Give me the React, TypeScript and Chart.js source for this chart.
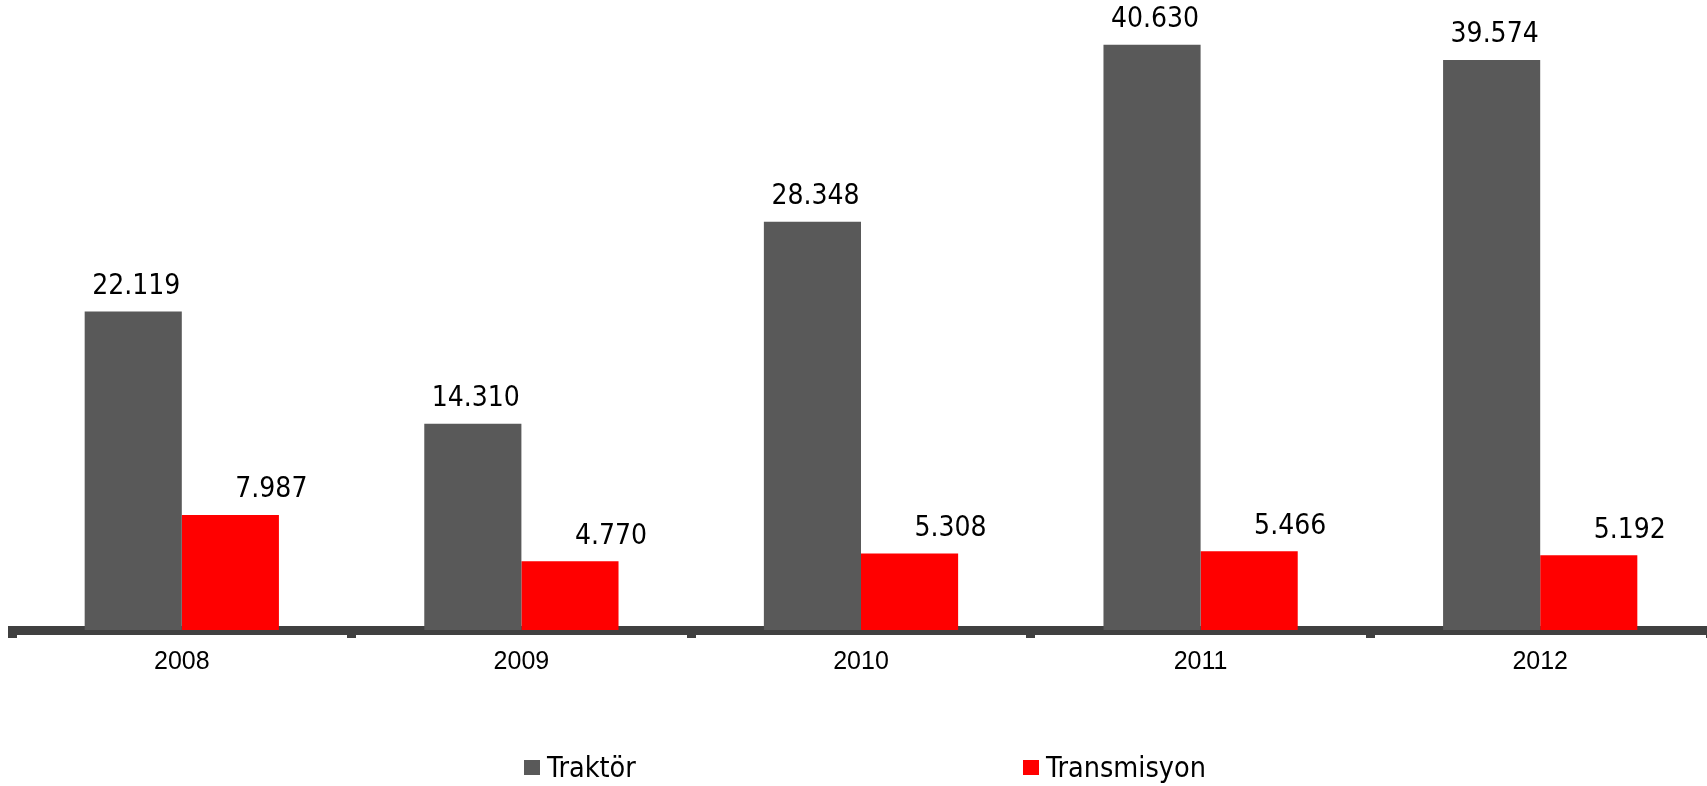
import { useEffect, useRef } from "react";
import { Chart, registerables } from "chart.js";

Chart.register(...registerables);

const years = ["2008", "2009", "2010", "2011", "2012"];
const traktor = [22119, 14310, 28348, 40630, 39574];
const transmisyon = [7987, 4770, 5308, 5466, 5192];
const seriesNames = ["Traktör", "Transmisyon"];
const seriesColors = ["#595959", "#FF0000"];
const yMax = 42000;

const W = 1710;
const H = 786;
const LABEL_FONT = '28px "DejaVu Sans Condensed", "DejaVu Sans", sans-serif';
const LEGEND_FONT = '28.5px "DejaVu Sans Condensed", "DejaVu Sans", sans-serif';

function fmt(v: number): string {
  const th = Math.floor(v / 1000);
  const rest = v % 1000;
  return th > 0 ? `${th}.${String(rest).padStart(3, "0")}` : String(rest);
}

const labelOffsetX = [3, 41];

const dataLabelPlugin = {
  id: "dataLabels",
  afterDatasetsDraw(chart: any) {
    const ctx = chart.ctx;
    ctx.save();
    ctx.font = LABEL_FONT;
    ctx.fillStyle = "#000000";
    ctx.textAlign = "center";
    ctx.textBaseline = "alphabetic";
    chart.data.datasets.forEach((ds: any, di: number) => {
      const meta = chart.getDatasetMeta(di);
      meta.data.forEach((bar: any, i: number) => {
        const v = ds.data[i] as number;
        ctx.fillText(fmt(v), bar.x + labelOffsetX[di], bar.y - 17.5);
      });
    });
    ctx.restore();
  },
};

const legendItemX = [524, 1023];
const legendBoxTop = 760;
const legendBaseline = 776.7;

const legendPlugin = {
  id: "customLegend",
  afterDraw(chart: any) {
    const ctx = chart.ctx;
    ctx.save();
    ctx.font = LEGEND_FONT;
    ctx.textAlign = "left";
    ctx.textBaseline = "alphabetic";
    chart.data.datasets.forEach((ds: any, di: number) => {
      const x = legendItemX[di];
      ctx.fillStyle = ds.backgroundColor;
      ctx.fillRect(x, legendBoxTop, 16, 15);
      ctx.fillStyle = "#000000";
      ctx.fillText(ds.label, x + 23, legendBaseline);
    });
    ctx.restore();
  },
};

export default function App() {
  const ref = useRef<HTMLCanvasElement | null>(null);

  useEffect(() => {
    const canvas = ref.current;
    if (!canvas) return;
    const chart = new Chart(canvas, {
      type: "bar",
      data: {
        labels: years,
        datasets: [
          {
            label: seriesNames[0],
            data: traktor,
            backgroundColor: seriesColors[0],
            borderWidth: 0,
            categoryPercentage: 0.572,
            barPercentage: 1,
          },
          {
            label: seriesNames[1],
            data: transmisyon,
            backgroundColor: seriesColors[1],
            borderWidth: 0,
            categoryPercentage: 0.572,
            barPercentage: 1,
          },
        ],
      },
      options: {
        responsive: false,
        animation: false,
        devicePixelRatio: 1,
        layout: { padding: { left: 12, right: 0, top: 25, bottom: 106 } },
        plugins: {
          legend: { display: false },
          tooltip: { enabled: false },
        },
        scales: {
          x: {
            z: 1,
            border: { display: true, width: 9, color: "#404040" },
            grid: {
              display: true,
              drawOnChartArea: false,
              drawTicks: true,
              tickLength: 8,
              tickWidth: 9,
              tickColor: "#404040",
              offset: true,
            },
            ticks: {
              color: "#000000",
              padding: 9,
              font: { family: '"Liberation Sans", Arial, sans-serif', size: 25 },
            },
            afterFit: (scale: any) => {
              scale.height = 50;
            },
          },
          y: { display: false, min: 0, max: yMax },
        },
      },
      plugins: [dataLabelPlugin, legendPlugin],
    } as any);
    return () => chart.destroy();
  }, []);

  return (
    <div style={{ position: "fixed", left: 0, top: 0, width: W, height: H, background: "#ffffff" }}>
      <canvas ref={ref} width={W} height={H} style={{ width: W, height: H, display: "block" }} />
    </div>
  );
}
